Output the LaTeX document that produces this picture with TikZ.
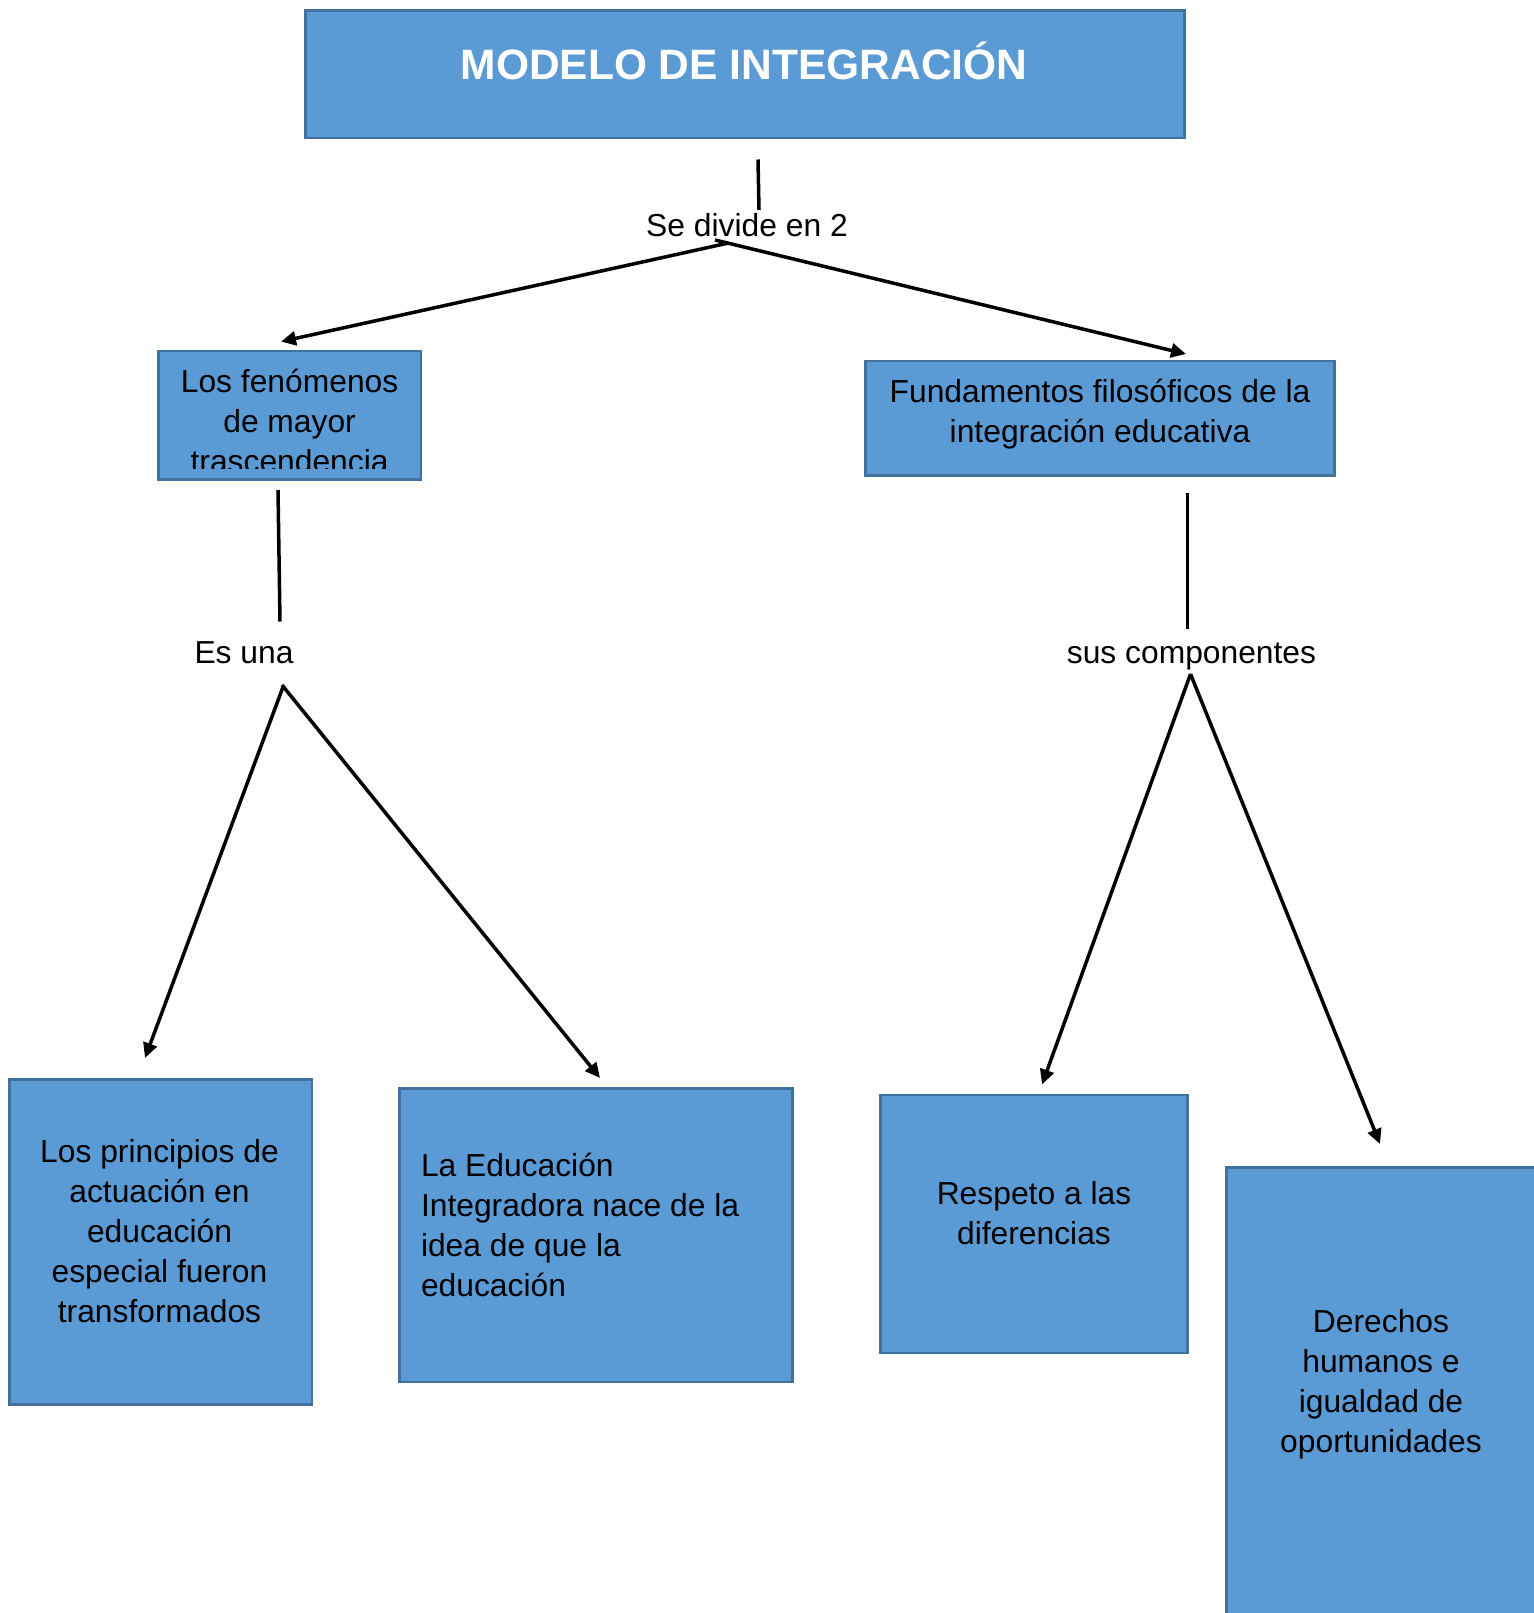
\documentclass[tikz,border=0pt]{standalone}
\usepackage{fontspec}
\setmainfont{Liberation Sans}
\usetikzlibrary{arrows.meta}
\definecolor{boxfill}{HTML}{5B9BD5}
\definecolor{boxline}{HTML}{41719C}
\newcommand{\bodyfont}{\fontsize{31.8}{40}\selectfont}
\newcommand{\titlefont}{\fontsize{42.5}{50}\selectfont\bfseries}
\tikzset{
  box/.style={draw=boxline, fill=boxfill, line width=2.5pt, inner sep=0pt},
  txt/.style={font=\bodyfont, text=black, inner sep=0pt, align=center},
  lbl/.style={font=\bodyfont, text=black, inner sep=0pt},
  conn/.style={line width=3.5pt, black},
  arr/.style={conn, -{Triangle[length=15pt,width=14pt]}}
}
\begin{document}
\begin{tikzpicture}[x=1pt,y=-1pt]
\useasboundingbox (0,0) rectangle (1533,1613);
\fill[white] (0,0) rectangle (1533,1613);
% boxes
\node[box, minimum width=878.7pt, minimum height=127.6pt] (title) at (745,74.1) {};
\node[font=\titlefont, text=white, inner sep=0pt] (titletext) at (744,61) {MODELO DE INTEGRACIÓN};

\node[box, minimum width=262.3pt, minimum height=128.5pt] (fen) at (289.7,415.3) {};
\begin{scope}
\clip (158.5,351) rectangle (420.8,468);
\node[txt] (fentext) at (289.6,421) {Los fenómenos\\de mayor\\trascendencia};
\end{scope}

\node[box, minimum width=469.2pt, minimum height=114.3pt] (fund) at (1099.9,418.2) {};
\node[txt] (fundtext) at (1100,414) {Fundamentos filosóficos de la\\integración educativa};

\node[box, minimum width=302.5pt, minimum height=325.1pt] (prin) at (160.6,1241.9) {};
\node[txt] (printext) at (159.5,1231.5) {Los principios de\\actuación en\\educación\\especial fueron\\transformados};

\node[box, minimum width=393.1pt, minimum height=293.2pt] (edu) at (595.8,1235.2) {};
\node[txt, align=left, anchor=west] (edutext) at (420.8,1225) {La Educación\\Integradora nace de la\\idea de que la\\educación};

\node[box, minimum width=306.6pt, minimum height=258.2pt] (resp) at (1034,1223.9) {};
\node[txt] (resptext) at (1034,1213.5) {Respeto a las\\diferencias};

\node[box, minimum width=318.5pt, minimum height=457.5pt] (der) at (1385.75,1396.25) {};
\node[txt] (dertext) at (1381,1384.6) {Derechos\\humanos e\\igualdad de\\oportunidades};

% link labels
\node[lbl] (divide) at (747,225) {Se divide en 2};
\node[lbl] (esuna) at (244,653) {Es una};
\node[lbl] (sus) at (1191.5,657) {sus componentes};

% connector end points
\coordinate (a1) at (758,159.5);
\coordinate (a2) at (759,210);
\coordinate (b1) at (728.5,243);
\coordinate (b2) at (281,341.6);
\coordinate (b3) at (715,240);
\coordinate (b4) at (1186,354);
\coordinate (c1) at (278,490);
\coordinate (c2) at (280,621.5);
\coordinate (d1) at (283,687);
\coordinate (d2) at (145,1058);
\coordinate (d3) at (282,685);
\coordinate (d4) at (600,1078);
\coordinate (e1) at (1187.5,493);
\coordinate (e2) at (1187.5,628.6);
\coordinate (f1) at (1190.5,674);
\coordinate (f2) at (1042,1084.5);
\coordinate (f3) at (1380,1144);

\draw[conn] (a1) -- (a2);
\draw[arr] (b1) -- (b2);
\draw[arr] (b3) -- (b4);
\draw[conn] (c1) -- (c2);
\draw[arr] (d1) -- (d2);
\draw[arr] (d3) -- (d4);
\draw[conn] (e1) -- (e2);
\draw[arr] (f1) -- (f2);
\draw[arr] (f1) -- (f3);
\end{tikzpicture}
\end{document}
